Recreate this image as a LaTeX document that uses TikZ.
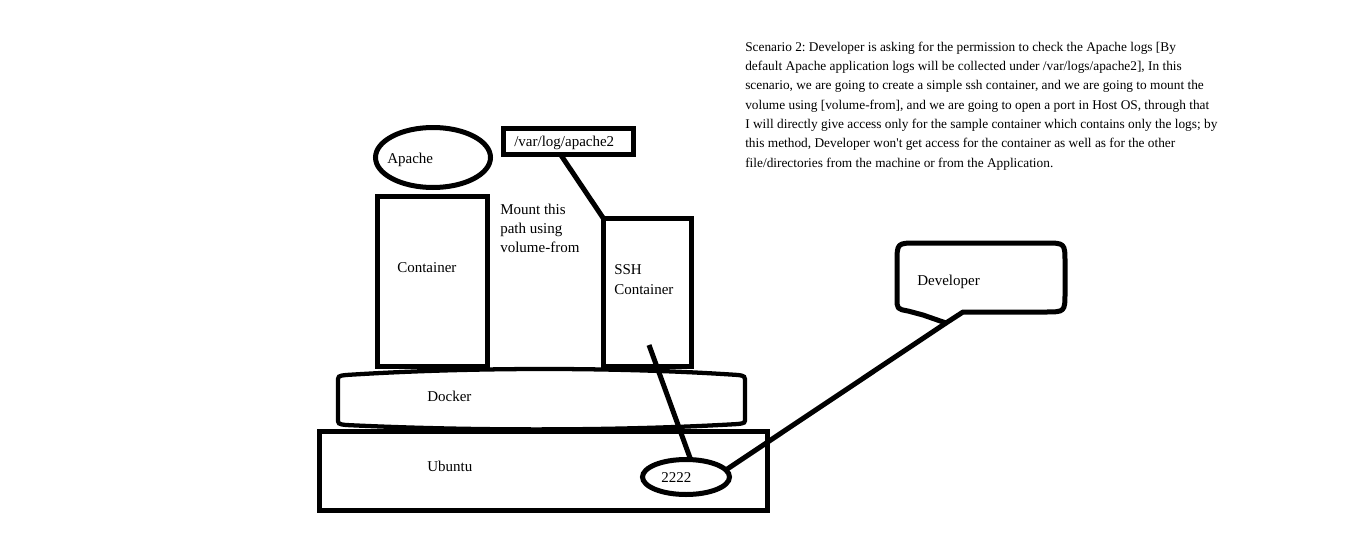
\documentclass[tikz,border=0pt]{standalone}
\usepackage{fontspec}
\setmainfont{Liberation Serif}
\usetikzlibrary{shapes.geometric}
\frenchspacing

\begin{document}
\begin{tikzpicture}[x=0.75pt,y=-0.75pt,
  wall/.style={draw,line width=3.75pt,inner sep=0pt,outer sep=0pt},
  lbl/.style={anchor=base west,inner sep=0pt,align=left,font=\fontsize{11.25}{14.5}\selectfont},
  wire/.style={line width=3.75pt}]
\useasboundingbox (0,0) rectangle (1345,542);

% the note (multi-line nodes sit on their last baseline)
\node[lbl,font=\fontsize{10}{14.5}\selectfont] (note) at (745,167) {Scenario 2: Developer is asking for the permission to check the Apache logs [By\\
default Apache application logs will be collected under /var/logs/apache2], In this\\
scenario, we are going to create a simple ssh container, and we are going to mount the\\
volume using [volume-from], and we are going to open a port in Host OS, through that\\
I will directly give access only for the sample container which contains only the logs; by\\
this method, Developer won\textquotesingle t get access for the container as well as for the other\\
file/directories from the machine or from the Application.};

% host and docker
\draw[line width=3.2pt] (346,375) .. controls (470,367) and (620,367) .. (738,375)
  .. controls (745,376) .. (745,383) -- (745,418) .. controls (745,423) .. (738,424)
  .. controls (620,431) and (470,431) .. (346,425)
  .. controls (338,424) .. (338,418) -- (338,382) .. controls (338,376) .. (346,375) -- cycle;
\node[wall,minimum width=448*0.75pt,minimum height=79*0.75pt] (ubuntu) at (543.5,471) {};
\node[wall,ellipse,minimum width=87*0.75pt,minimum height=35*0.75pt] (port) at (686,477) {};

% containers
\node[wall,ellipse,minimum width=115*0.75pt,minimum height=60*0.75pt] (apache) at (433,157.5) {};
\node[wall,minimum width=110*0.75pt,minimum height=170*0.75pt] (cont) at (432.5,281) {};
\node[wall,minimum width=130*0.75pt,minimum height=26*0.75pt] (varlog) at (568.5,141.5) {};
\node[wall,minimum width=88*0.75pt,minimum height=148*0.75pt] (ssh) at (647.5,292.5) {};

% developer bubble
\coordinate (devtip) at (946,323);
\draw[wire,line join=round] (devtip) -- (963,312) -- (1045,312) .. controls (1065,312) .. (1065,292)
  -- (1065,263) .. controls (1065,243) .. (1045,243) -- (917,243) .. controls (897,243) .. (897,263)
  -- (897,298) .. controls (897,309) .. (908,311) -- (923,315) -- cycle;

% labels
\node[lbl] (apachetxt) at (387,163) {Apache};
\node[lbl] (varlogtxt) at (514,146) {/var/log/apache2};
\node[lbl] (mounttxt) at (500,252.7) {Mount this\\path using\\volume-from};
\node[lbl] (conttxt) at (397,272) {Container};
\node[lbl] (sshtxt) at (614,294.3) {SSH\\Container};
\node[lbl] (dockertxt) at (427,401) {Docker};
\node[lbl] (ubuntutxt) at (427,471) {Ubuntu};
\node[lbl] (porttxt) at (661,482) {2222};
\node[lbl] (devtxt) at (917,285) {Developer};

% links
\coordinate (sshlink) at (649,345);
\draw[wire] ([xshift=-6pt]varlog.south) -- (ssh.north west);
\draw[wire] (sshlink) -- (port.75);
\draw[wire] (port.10) -- (devtip);
\end{tikzpicture}
\end{document}
